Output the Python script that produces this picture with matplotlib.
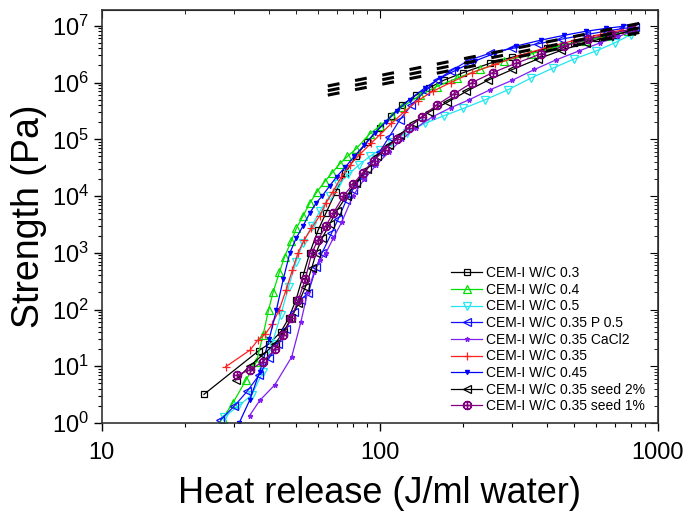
import numpy as np
import matplotlib
matplotlib.use("Agg")
import matplotlib.pyplot as plt

plt.rcParams["font.family"] = ["Liberation Sans", "DejaVu Sans"]
plt.rcParams["mathtext.fontset"] = "custom"
plt.rcParams["mathtext.rm"] = "Liberation Sans"
plt.rcParams["mathtext.it"] = "Liberation Sans:italic"
plt.rcParams["mathtext.bf"] = "Liberation Sans:bold"

# ---------- data (heat J/ml water, strength Pa) ----------
wc03_x = [23.3, 36.7, 40, 44, 47, 50, 53, 56, 60, 64, 69.5, 75, 82, 90, 100, 110, 120, 135, 150, 170, 200, 250, 300, 400, 500, 600, 700, 800]
wc03_y = [3.2, 18.8, 25, 40, 70, 150, 400, 1000, 2500, 5000, 1.2e4, 2.5e4, 5e4, 9e4, 1.6e5, 2.6e5, 4e5, 6e5, 8e5, 1.1e6, 1.5e6, 2.2e6, 2.8e6, 4e6, 5e6, 6e6, 7e6, 8e6]

wc04_x = [27.2, 29.6, 33, 36, 38, 39.8, 41.3, 43.5, 45.5, 48, 50.1, 53, 56, 59.5, 63.4, 67.5, 71.8, 76.5, 82, 92, 100, 111, 120, 140, 160, 190, 230, 280, 350, 450, 550, 650, 780]
wc04_y = [1.2, 2.25, 5.7, 12, 35, 98, 200, 450, 860, 1600, 2700, 4500, 7500, 1.2e4, 1.8e4, 2.6e4, 3.7e4, 5e4, 6.7e4, 1.25e5, 1.7e5, 2.6e5, 3.7e5, 6e5, 8.5e5, 1.2e6, 1.7e6, 2.4e6, 3.2e6, 4.5e6, 5.5e6, 6.5e6, 8e6]

wc05_x = [27.5, 31, 34.6, 38, 41, 44, 47, 50, 53, 57, 61, 66, 71, 77, 84, 92, 100, 110, 125, 145, 170, 200, 240, 290, 350, 420, 500, 600, 700, 800]
wc05_y = [1.27, 2, 3.1, 8, 25, 80, 250, 700, 1500, 3000, 5500, 1e4, 1.6e4, 2.4e4, 3.5e4, 5e4, 6.5e4, 9e4, 1.3e5, 1.9e5, 2.6e5, 3.5e5, 5e5, 7.5e5, 1.2e6, 1.8e6, 2.6e6, 3.6e6, 5e6, 7e6]

p05_x = [26.7, 30, 33.3, 36.8, 40, 43, 46, 49, 52, 55.2, 59.2, 62, 67, 71, 75.9, 80, 86, 93, 100, 108, 118, 130, 145, 160, 180, 210, 250, 300, 370, 450, 550, 650, 750, 830]
p05_y = [1.13, 2, 3.6, 7, 14, 25, 45, 90, 150, 194, 571, 1000, 2200, 4000, 8600, 1.3e4, 2.2e4, 3.8e4, 6e4, 1.1e5, 2.2e5, 4e5, 7e5, 1.1e6, 1.6e6, 2.5e6, 3.3e6, 4e6, 4.8e6, 5.8e6, 7e6, 8e6, 9e6, 9.5e6]

cacl2_x = [34, 37, 41.9, 48.2, 52, 55, 58, 61, 64, 68, 73, 80, 88, 97, 108, 120, 135, 155, 180, 210, 250, 300, 360, 430, 520, 620, 720, 820]
cacl2_y = [1.35, 2.5, 4.7, 14.6, 60, 200, 450, 750, 1000, 1800, 3500, 1e4, 2e4, 3.5e4, 6e4, 1e5, 1.6e5, 2.5e5, 3.6e5, 5e5, 7.5e5, 1.1e6, 1.7e6, 2.5e6, 3.6e6, 5e6, 6.5e6, 8e6]

wc035_x = [27.9, 34.2, 36.4, 38.7, 41, 43.5, 46, 48.5, 50.8, 53.5, 56.8, 60.8, 64, 67.9, 72.8, 78, 85, 93, 100, 110, 122, 137, 155, 180, 215, 260, 320, 400, 500, 620, 750]
wc035_y = [9.8, 19.4, 29, 36.7, 55, 100, 220, 500, 1000, 1700, 2700, 4500, 7500, 1.2e4, 2.2e4, 3.5e4, 5.5e4, 8.5e4, 1.2e5, 1.9e5, 3e5, 4.8e5, 7e5, 1e6, 1.5e6, 2.1e6, 3e6, 4.2e6, 5.5e6, 7e6, 8.5e6]

wc045_x = [31.2, 34, 37, 40, 42.5, 45, 47.5, 50, 53, 56, 59, 62, 66, 70, 75, 81, 88, 96, 105, 115, 128, 145, 165, 190, 220, 260, 310, 380, 460, 550, 650, 750]
wc045_y = [1, 2.5, 8, 30, 100, 350, 1000, 1800, 3000, 5000, 7500, 1e4, 1.5e4, 2.2e4, 3.2e4, 5e4, 8e4, 1.3e5, 2e5, 3.2e5, 5e5, 8e5, 1.2e6, 1.7e6, 2.4e6, 3.3e6, 4.4e6, 5.6e6, 6.8e6, 8e6, 9e6, 9.8e6]

seed2_x = [30.3, 34, 38, 42, 45, 48, 51, 54, 57, 59, 62, 66, 70, 76, 82, 90, 98, 108, 118, 132, 150, 175, 205, 245, 300, 370, 450, 550, 670, 800]
seed2_y = [5.7, 10, 16, 25, 40, 70, 130, 250, 550, 1000, 1800, 3200, 5500, 1e4, 1.7e4, 3e4, 5e4, 8e4, 1.2e5, 1.9e5, 3e5, 4.5e5, 7e5, 1.1e6, 1.7e6, 2.6e6, 3.7e6, 5e6, 6.5e6, 8.2e6]

seed1_x = [30.7, 34, 38, 42, 45, 48, 51, 54, 57, 60, 64, 68, 74, 80, 87, 95, 104, 115, 127, 142, 160, 185, 215, 255, 310, 380, 460, 560, 680, 810]
seed1_y = [7, 8.6, 12, 20, 35, 70, 150, 350, 1000, 1700, 3000, 5000, 1e4, 1.6e4, 2.6e4, 4.2e4, 6.5e4, 1e5, 1.6e5, 2.5e5, 4e5, 6.3e5, 1e6, 1.5e6, 2.2e6, 3.2e6, 4.4e6, 5.8e6, 7.3e6, 8.8e6]

# black dashed reference lines (three parallel lines)
ref_x = [65, 935]
ref_top = [8.7e5, 1.2e7]
ref_mid = [7.2e5, 1.0e7]
ref_bot = [6.0e5, 8.3e6]

series = [
    (wc03_x, wc03_y, "CEM-I W/C 0.3", "black", "s", 4.5, "none"),
    (wc04_x, wc04_y, "CEM-I W/C 0.4", "#00e000", "^", 5.5, "none"),
    (wc05_x, wc05_y, "CEM-I W/C 0.5", "#22e6f0", "v", 5.5, "none"),
    (p05_x, p05_y, "CEM-I W/C 0.35 P 0.5", "#1010ff", "<", 5.5, "none"),
    (cacl2_x, cacl2_y, "CEM-I W/C 0.35 CaCl2", "#8020f0", "*", 3.5, None),
    (wc035_x, wc035_y, "CEM-I W/C 0.35", "#ff2020", "+", 6, None),
    (wc045_x, wc045_y, "CEM-I W/C 0.45", "#0000ff", "v", 3, None),
    (seed2_x, seed2_y, "CEM-I W/C 0.35 seed 2%", "black", "<", 5.5, "none"),
    (seed1_x, seed1_y, "CEM-I W/C 0.35 seed 1%", "#800080", r"$\oplus$", 6, None),
]

fig = plt.figure(figsize=(6.88, 5.13), dpi=100)
ax = fig.add_axes([0.148, 0.1754, 0.808, 0.8051])

for x, y, label, color, marker, ms, mfc in series:
    kw = dict(color=color, marker=marker, markersize=ms, linewidth=0.9,
              markeredgewidth=0.9, label=label)
    if mfc is not None:
        kw["markerfacecolor"] = mfc
    ax.plot(x, y, **kw)

for ry in (ref_top, ref_mid, ref_bot):
    ax.plot(ref_x, ry, color="black", linewidth=2.2, dashes=(3.9, 5.2),
            solid_capstyle="butt", dash_capstyle="butt")

ax.set_xscale("log")
ax.set_yscale("log")
ax.set_xlim(10, 1000)
ax.set_ylim(1, 1.9e7)

ax.set_xlabel("Heat release (J/ml water)", fontsize=26, labelpad=8)
ax.set_ylabel("Strength (Pa)", fontsize=27, labelpad=4)

ax.set_xticks([10, 100, 1000])
ax.set_xticklabels(["10", "100", "1000"])
ax.set_yticks([10.0 ** k for k in range(8)])

ax.tick_params(axis="both", which="major", direction="out", length=6,
               width=1, labelsize=17, pad=8)
ax.tick_params(axis="both", which="minor", direction="out", length=3, width=0.8)
ax.tick_params(axis="y", labelsize=17, pad=3)

sec_x = ax.secondary_xaxis("top")
sec_x.tick_params(which="major", direction="in", length=6, labeltop=False)
sec_x.tick_params(which="minor", direction="in", length=3)
sec_x.set_xticks([10, 100, 1000])
sec_x.set_xticklabels([])
sec_y = ax.secondary_yaxis("right")
sec_y.tick_params(which="major", direction="in", length=6, labelright=False)
sec_y.tick_params(which="minor", direction="in", length=3)
sec_y.set_yticks([10.0 ** k for k in range(8)])
sec_y.set_yticklabels([])

for sp in ax.spines.values():
    sp.set_linewidth(1.2)
    sp.set_color("#333333")

ax.legend(loc="lower right", frameon=False, fontsize=10, numpoints=1,
          handlelength=2.2, handletextpad=0.3, labelspacing=0.19,
          borderaxespad=0.3, bbox_to_anchor=(0.995, 0.0))

fig.savefig("out.png", dpi=100)
